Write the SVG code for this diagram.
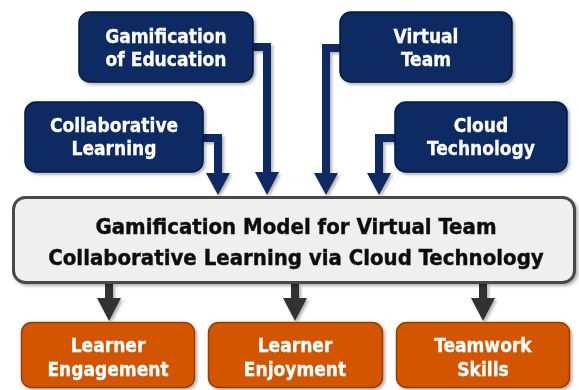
<svg xmlns="http://www.w3.org/2000/svg" width="579" height="390" viewBox="0 0 579 390">
  <defs>
    <filter id="shadow" x="-10%" y="-10%" width="125%" height="130%">
      <feDropShadow dx="2" dy="2" stdDeviation="1.5" flood-color="#000" flood-opacity="0.3"/>
    </filter>
    <style>
      .input rect { fill: #0c2a63; stroke: #051a45; stroke-width: 1.5; }
      .input text, .output text { fill: #ffffff; stroke: #ffffff; stroke-width: 0.3; }
      .core rect { fill: #efefef; stroke: #4a4a4a; stroke-width: 3; }
      .core text { fill: #111111; stroke: #111111; stroke-width: 0.4; font-size: 22px; }
      .output rect { fill: #d35400; stroke: #9a3c00; stroke-width: 1.5; }
      text { font-family: "DejaVu Sans Condensed", "DejaVu Sans", sans-serif; font-stretch: condensed; font-weight: bold; font-size: 19px; text-anchor: middle; }
      .in-line { fill: none; stroke: #0c2a63; stroke-width: 8; stroke-linejoin: miter; }
      .in-head { fill: #0c2a63; }
      .out-line { fill: none; stroke: #333333; stroke-width: 8; }
      .out-head { fill: #333333; }
    </style>
  </defs>

  <!-- connectors -->
  <g id="connectors" filter="url(#shadow)">
    <path class="in-line" d="M253,47 H267 V174"/>
    <polygon class="in-head" points="255,172 279,172 267,195"/>
    <path class="in-line" d="M203,138 H218 V175"/>
    <polygon class="in-head" points="206,173 230,173 218,195"/>
    <path class="in-line" d="M340,48 H326 V175"/>
    <polygon class="in-head" points="314,173 338,173 326,195"/>
    <path class="in-line" d="M395,138 H379 V175"/>
    <polygon class="in-head" points="367,173 391,173 379,195"/>

    <path class="out-line" d="M109,284 V300"/>
    <polygon class="out-head" points="97,298 121,298 109,321"/>
    <path class="out-line" d="M295,284 V300"/>
    <polygon class="out-head" points="283,298 307,298 295,321"/>
    <path class="out-line" d="M483,284 V300"/>
    <polygon class="out-head" points="471,298 495,298 483,321"/>
  </g>

  <!-- input nodes -->
  <g id="gamification-of-education" class="input" filter="url(#shadow)">
    <rect x="79" y="12" width="174" height="70" rx="11"/>
    <text x="166" y="43">Gamification</text>
    <text x="166" y="66">of Education</text>
  </g>
  <g id="virtual-team" class="input" filter="url(#shadow)">
    <rect x="340" y="12" width="172" height="70" rx="11"/>
    <text x="426" y="43">Virtual</text>
    <text x="426" y="66">Team</text>
  </g>
  <g id="collaborative-learning" class="input" filter="url(#shadow)">
    <rect x="25" y="102" width="178" height="70" rx="11"/>
    <text x="114" y="132">Collaborative</text>
    <text x="114" y="155">Learning</text>
  </g>
  <g id="cloud-technology" class="input" filter="url(#shadow)">
    <rect x="395" y="102" width="172" height="70" rx="11"/>
    <text x="481" y="132">Cloud</text>
    <text x="481" y="155">Technology</text>
  </g>

  <!-- central model -->
  <g id="gamification-model" class="core" filter="url(#shadow)">
    <rect x="13.5" y="197.5" width="561" height="85" rx="12"/>
    <text x="296" y="234">Gamification Model for Virtual Team</text>
    <text x="296" y="265">Collaborative Learning via Cloud Technology</text>
  </g>

  <!-- outcome nodes -->
  <g id="learner-engagement" class="output" filter="url(#shadow)">
    <rect x="21.5" y="322.5" width="173" height="65" rx="10"/>
    <text x="108" y="352">Learner</text>
    <text x="108" y="376">Engagement</text>
  </g>
  <g id="learner-enjoyment" class="output" filter="url(#shadow)">
    <rect x="208.5" y="322.5" width="174" height="65" rx="10"/>
    <text x="295" y="352">Learner</text>
    <text x="295" y="376">Enjoyment</text>
  </g>
  <g id="teamwork-skills" class="output" filter="url(#shadow)">
    <rect x="396.5" y="322.5" width="173" height="65" rx="10"/>
    <text x="483" y="352">Teamwork</text>
    <text x="483" y="376">Skills</text>
  </g>
</svg>
